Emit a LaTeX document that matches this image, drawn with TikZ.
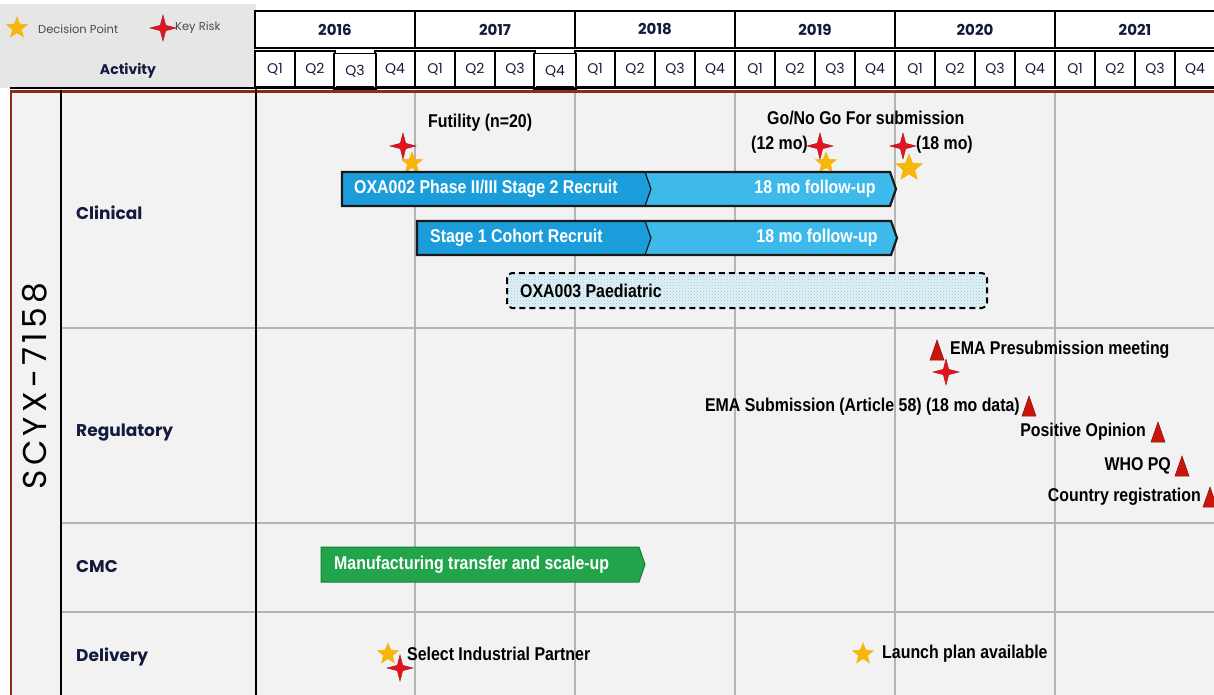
\documentclass[tikz,border=0pt]{standalone}
\usepackage{fontspec}
\setmainfont{Liberation Sans}
\newfontfamily\gothic{Poppins}
\newfontfamily\gothicwide[LetterSpace=13]{Poppins}
\newfontface\nb[FakeStretch=0.86]{Liberation Sans Bold}
\usetikzlibrary{shapes.geometric,patterns}
\definecolor{navy}{HTML}{141A3C}
\definecolor{bgGray}{HTML}{F2F2F2}
\definecolor{legGray}{HTML}{E6E6E6}
\definecolor{gridGray}{HTML}{B4B4B4}
\definecolor{frameRed}{HTML}{8C2A1C}
\definecolor{blueA}{HTML}{1A9DDA}
\definecolor{blueB}{HTML}{3DB9EB}
\definecolor{barGreen}{HTML}{22A54A}
\definecolor{greenEdge}{HTML}{16803A}
\definecolor{starY}{HTML}{F7B70A}
\definecolor{riskR}{HTML}{E3141E}
\definecolor{triR}{HTML}{C8160C}
\definecolor{paed}{HTML}{E2F1F7}
\definecolor{paedDot}{HTML}{9CC6D8}
\definecolor{legText}{HTML}{4A4A4A}
\tikzset{
  yearbox/.style={draw=black, line width=2pt, fill=white, minimum width=160pt, minimum height=37pt, inner sep=0pt, font=\gothic\bfseries\fontsize{15}{16}\selectfont, text=navy},
  qbox/.style={draw=black, line width=1.8pt, fill=white, minimum width=40pt, minimum height=36pt, inner sep=0pt, font=\gothic\fontsize{14}{15}\selectfont, text=navy},
  rowlabel/.style={anchor=west, inner sep=0pt, font=\gothic\bfseries\fontsize{17}{18}\selectfont, text=navy},
  legtext/.style={anchor=west, inner sep=0pt, font=\gothic\fontsize{11.5}{13}\selectfont, text=legText},
  mtext/.style={inner sep=0pt, font=\nb\fontsize{18.5}{20}\selectfont, text=black},
  btext/.style={mtext, text=white},
  decision/.style={star, star points=5, star point ratio=2.3, minimum size=#1, inner sep=0pt, fill=starY, draw=starY!85!orange, line width=0.4pt},
  decision/.default=22pt,
  risk/.style={star, star points=4, star point ratio=3.4, minimum size=26pt, inner sep=0pt, fill=riskR, draw=riskR!70!black, line width=0.4pt},
  grid line/.style={draw=gridGray, line width=1.3pt},
  bar edge/.style={draw=black!90, line width=2.2pt, line join=miter},
  pics/tri/.style={code={\draw[fill=triR, draw=triR!70!black, line width=0.5pt] (-7,10) -- (7,10) -- (0,-10) -- cycle;}}
}
\begin{document}
\begin{tikzpicture}[x=1pt,y=-1pt]
\useasboundingbox (0,0) rectangle (1214,695);
% background
\fill[white] (0,0) rectangle (1214,695);
\fill[legGray] (0,4) rectangle (256,88);
\fill[bgGray] (10,91) rectangle (1214,695);

% legend
\node[decision] (legStar) at (17,28) {};
\node[legtext] (legDec) at (38,29) {Decision Point};
\node[risk] (legRisk) at (163,28) {};
\node[legtext] (legKey) at (175,28) {Key Risk};
\node[inner sep=0pt, font=\gothic\bfseries\fontsize{14}{15}\selectfont, text=navy] (activity) at (128,71) {Activity};

% years
\foreach \yr [count=\k from 0] in {2016,2017,2018,2019,2020,2021}
  \node[yearbox] (y\yr) at (335+160*\k,29.5) {\yr};
% quarters
\foreach \j in {0,...,23}{
  \pgfmathtruncatemacro\q{mod(\j,4)+1}
  \ifnum\j=2\relax\else\ifnum\j=7\relax\else
    \node[qbox] (q\j) at (275+40*\j,69) {Q\q};
  \fi\fi
}
% highlighted quarters
\node[qbox, minimum width=42pt] (q2) at (355,71.5) {Q3};
\node[qbox, minimum width=42pt] (q7) at (555,71.5) {Q4};

% header bottom lines
\draw[black, line width=1.5pt] (10,88) -- (1214,88);
\draw[line width=4pt] (336,88.5) -- (374,88.5);
\draw[line width=4pt] (536,88.5) -- (574,88.5);
\draw[frameRed, line width=2.5pt] (10,91.5) -- (1214,91.5);

% grid
\foreach \gx in {415,575,735,895,1055}
  \draw[grid line] (\gx,93) -- (\gx,695);
\foreach \gy in {328,523,612}
  \draw[grid line] (62,\gy) -- (1214,\gy);
\draw[black, line width=2.2pt] (61,90) -- (61,695);
\draw[black, line width=2.2pt] (256,88) -- (256,695);
\draw[frameRed, line width=2pt] (11,91) -- (11,695);

% labels
\node[rotate=90, inner sep=0pt, font=\gothicwide\fontsize{33}{35}\selectfont, text=black] (product) at (35,386) {SCYX-7158};
\node[rowlabel] (clinical) at (76,213) {Clinical};
\node[rowlabel] (regulatory) at (76,433) {Regulatory};
\node[rowlabel] (cmc) at (76,567) {CMC};
\node[rowlabel] (delivery) at (76,657) {Delivery};

% clinical decision stars (behind bars)
\node[decision] (d1) at (412,163) {};
\node[decision] (d2) at (826,163) {};
\node[decision=28pt] (d3) at (909,168) {};

% bar 1
\fill[blueB] (640,172) -- (890,172) -- (896,189) -- (890,206) -- (640,206) -- cycle;
\fill[blueA] (342,172) -- (645,172) -- (651,189) -- (645,206) -- (342,206) -- cycle;
\draw[black!90, line width=1.2pt] (645,172) -- (651,189) -- (645,206);
\draw[bar edge] (342,172) -- (890,172) -- (896,189) -- (890,206) -- (342,206) -- cycle;
\node[btext, anchor=west] (b1a) at (354,189) {OXA002 Phase II/III Stage 2 Recruit};
\node[btext] (b1b) at (815,189) {18 mo follow-up};

% bar 2
\fill[blueB] (640,221) -- (891,221) -- (897,238) -- (891,255) -- (640,255) -- cycle;
\fill[blueA] (417,221) -- (645,221) -- (651,238) -- (645,255) -- (417,255) -- cycle;
\draw[black!90, line width=1.2pt] (645,221) -- (651,238) -- (645,255);
\draw[bar edge] (417,221) -- (891,221) -- (897,238) -- (891,255) -- (417,255) -- cycle;
\node[btext, anchor=west] (b2a) at (430,238) {Stage 1 Cohort Recruit};
\node[btext] (b2b) at (817,238) {18 mo follow-up};

% paediatric
\fill[paed, rounded corners=5pt] (507,273) rectangle (987,308);
\fill[pattern=crosshatch dots, pattern color=paedDot, rounded corners=5pt] (507,273) rectangle (987,308);
\draw[black, line width=2pt, dash pattern=on 6pt off 4pt, rounded corners=5pt] (507,273) rectangle (987,308);
\node[mtext, anchor=west] (b3) at (520,290.5) {OXA003 Paediatric};

% clinical milestones
\node[risk] (r1) at (403,146) {};
\node[mtext, anchor=west] (futility) at (428,123) {Futility (n=20)};
\node[mtext, anchor=west] (gonogo) at (767,118) {Go/No Go For submission};
\node[mtext, anchor=west] (m12) at (751,145) {(12 mo)};
\node[risk] (r2) at (820,146) {};
\node[risk] (r3) at (903,146) {};
\node[mtext, anchor=west] (m18) at (916,145) {(18 mo)};

% regulatory
\pic at (937,350) {tri};
\node[mtext, anchor=west] (presub) at (950,350) {EMA Presubmission meeting};
\node[risk] (r4) at (946,372) {};
\pic at (1029,406) {tri};
\node[mtext, anchor=east] (sub) at (1020,407) {EMA Submission (Article 58) (18 mo data)};
\pic at (1158,432) {tri};
\node[mtext, anchor=east] (posop) at (1146,432) {Positive Opinion};
\pic at (1182,466) {tri};
\node[mtext, anchor=east] (whopq) at (1171,466) {WHO PQ};
\pic at (1210,497) {tri};
\node[mtext, anchor=east] (country) at (1201,497) {Country registration};

% CMC
\draw[fill=barGreen, draw=greenEdge, line width=1pt] (321,547) -- (639,547) -- (645,564.5) -- (639,582) -- (321,582) -- cycle;
\node[btext, anchor=west] (manuf) at (334,564.5) {Manufacturing transfer and scale-up};

% delivery
\node[decision] (d4) at (388,654) {};
\node[risk] (r5) at (400,668) {};
\node[mtext, anchor=west] (partner) at (407,654) {Select Industrial Partner};
\node[decision] (d5) at (863,654) {};
\node[mtext, anchor=west] (launch) at (882,654) {Launch plan available};
\end{tikzpicture}
\end{document}
